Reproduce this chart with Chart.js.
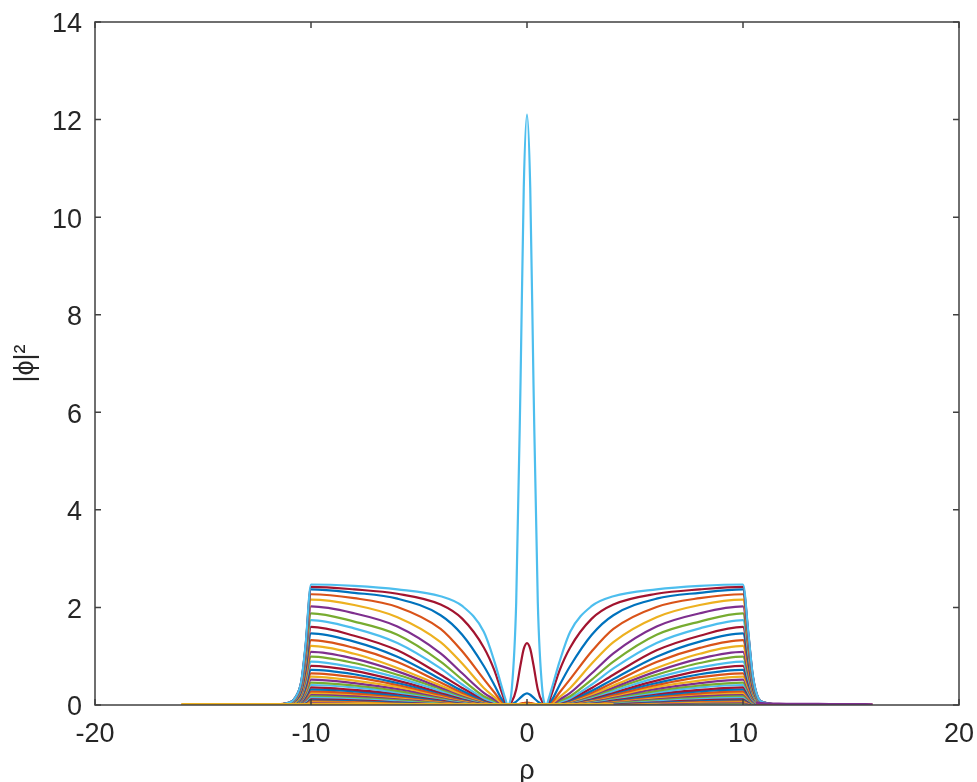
<!DOCTYPE html>
<html lang="en">
<head>
  <meta charset="UTF-8">
  <title>|phi|^2 vs rho</title>
  <script src="https://cdn.jsdelivr.net/npm/chart.js"></script>
  <style>
    body { margin: 0; background: #fff; }
  </style>
</head>
<body>
  <canvas id="phiChart" width="977" height="782"></canvas>

  <script>
    // shared rho grid for the family of profiles
    const rho = [-12, -11, -10.7, -10.45, -10.25, -10, -8, -6, -4, -3, -2, -1.5, -1.2, -1, -0.9, -0.7, -0.5, -0.3, -0.15, 0,
                 0.15, 0.3, 0.5, 0.7, 0.9, 1, 1.2, 1.5, 2, 3, 4, 6, 8, 10, 10.25, 10.45, 10.7, 11, 12];

    // |phi|^2, top curve first
    const phi01 = [0,0.05,0.17,0.49,1.24,2.47,2.44,2.37,2.23,2.03,1.5,0.88,0.42,0.12, 0,0.35,2.1,6.6,10.6,12.1,10.6,6.6,2.1,0.35,0, 0.12,0.42,0.88,1.5,2.03,2.23,2.37,2.44,2.47,1.48,0.62,0.15,0.05,0];
    const phi02 = [0,0.05,0.17,0.48,1.21,2.42,2.37,2.28,2.06,1.77,1.18,0.7,0.3,0.06, 0,0.07,0.32,0.82,1.15,1.27,1.15,0.82,0.32,0.07,0, 0.06,0.3,0.7,1.18,1.77,2.06,2.28,2.37,2.42,1.45,0.61,0.15,0.05,0];
    const phi03 = [0,0.05,0.17,0.47,1.19,2.37,2.3,2.18,1.84,1.44,0.8,0.4,0.14,0.03, 0,0.02,0.07,0.15,0.21,0.24,0.21,0.15,0.07,0.02,0, 0.03,0.14,0.4,0.8,1.44,1.84,2.18,2.3,2.37,1.42,0.59,0.14,0.05,0];
    const phi04 = [0,0.05,0.16,0.45,1.14,2.27,2.19,2.01,1.56,1.1,0.53,0.25,0.08,0.01, 0,0,0.01,0.03,0.04,0.05,0.04,0.03,0.01,0,0, 0.01,0.08,0.25,0.53,1.1,1.56,2.01,2.19,2.27,1.36,0.57,0.14,0.05,0];
    const phi05 = [0,0.04,0.15,0.43,1.08,2.16,2.05,1.8,1.29,0.85,0.35,0.16,0.05,0, 0,0,0,0,0,0,0,0,0,0,0, 0,0.05,0.16,0.35,0.85,1.29,1.8,2.05,2.16,1.3,0.54,0.13,0.04,0];
    const phi06 = [0,0.04,0.14,0.4,1.01,2.02,1.88,1.61,1.06,0.65,0.25,0.11,0.03,0, 0,0,0,0,0,0,0,0,0,0,0, 0,0.03,0.11,0.25,0.65,1.06,1.61,1.88,2.02,1.21,0.51,0.12,0.04,0];
    const phi07 = [0,0.04,0.13,0.38,0.94,1.88,1.71,1.44,0.89,0.52,0.18,0.08,0.02,0, 0,0,0,0,0,0,0,0,0,0,0, 0,0.02,0.08,0.18,0.52,0.89,1.44,1.71,1.88,1.13,0.47,0.11,0.04,0];
    const phi08 = [0,0.03,0.12,0.35,0.87,1.74,1.57,1.27,0.75,0.42,0.14,0.06,0.02,0, 0,0,0,0,0,0,0,0,0,0,0, 0,0.02,0.06,0.14,0.42,0.75,1.27,1.57,1.74,1.04,0.44,0.1,0.03,0];
    const phi09 = [0,0.03,0.11,0.32,0.8,1.6,1.42,1.12,0.62,0.35,0.12,0.05,0.015,0, 0,0,0,0,0,0,0,0,0,0,0, 0,0.015,0.05,0.12,0.35,0.62,1.12,1.42,1.6,0.96,0.4,0.1,0.03,0];
    const phi10 = [0,0.03,0.1,0.29,0.74,1.47,1.3,0.99,0.53,0.29,0.1,0.04,0.01,0, 0,0,0,0,0,0,0,0,0,0,0, 0,0.01,0.04,0.1,0.29,0.53,0.99,1.3,1.47,0.88,0.37,0.09,0.03,0];
    const phi11 = [0,0.03,0.09,0.27,0.67,1.33,1.17,0.88,0.46,0.25,0.09,0.04,0.01,0, 0,0,0,0,0,0,0,0,0,0,0, 0,0.01,0.04,0.09,0.25,0.46,0.88,1.17,1.33,0.8,0.33,0.08,0.03,0];
    const phi12 = [0,0.02,0.08,0.24,0.61,1.21,1.05,0.76,0.4,0.22,0.08,0.035,0.01,0, 0,0,0,0,0,0,0,0,0,0,0, 0,0.01,0.035,0.08,0.22,0.4,0.76,1.05,1.21,0.73,0.3,0.07,0.02,0];
    const phi13 = [0,0.02,0.08,0.22,0.55,1.09,0.95,0.69,0.36,0.2,0.07,0.03,0.01,0, 0,0,0,0,0,0,0,0,0,0,0, 0,0.01,0.03,0.07,0.2,0.36,0.69,0.95,1.09,0.65,0.27,0.07,0.02,0];
    const phi14 = [0,0.02,0.07,0.2,0.5,0.99,0.86,0.62,0.33,0.18,0.065,0.03,0.01,0, 0,0,0,0,0,0,0,0,0,0,0, 0,0.01,0.03,0.065,0.18,0.33,0.62,0.86,0.99,0.59,0.25,0.06,0.02,0];
    const phi15 = [0,0.02,0.06,0.18,0.45,0.89,0.77,0.56,0.29,0.16,0.058,0.027,0.01,0, 0,0,0,0,0,0,0,0,0,0,0, 0,0.01,0.027,0.058,0.16,0.29,0.56,0.77,0.89,0.53,0.22,0.05,0.02,0];
    const phi16 = [0,0.02,0.06,0.16,0.4,0.8,0.7,0.5,0.26,0.144,0.052,0.024,0.008,0, 0,0,0,0,0,0,0,0,0,0,0, 0,0.008,0.024,0.052,0.144,0.26,0.5,0.7,0.8,0.48,0.2,0.05,0.02,0];
    const phi17 = [0,0.01,0.05,0.14,0.36,0.72,0.63,0.45,0.24,0.13,0.047,0.022,0.007,0, 0,0,0,0,0,0,0,0,0,0,0, 0,0.007,0.022,0.047,0.13,0.24,0.45,0.63,0.72,0.43,0.18,0.04,0.01,0];
    const phi18 = [0,0.01,0.05,0.13,0.33,0.65,0.57,0.41,0.21,0.117,0.042,0.02,0.007,0, 0,0,0,0,0,0,0,0,0,0,0, 0,0.007,0.02,0.042,0.117,0.21,0.41,0.57,0.65,0.39,0.16,0.04,0.01,0];
    const phi19 = [0,0.01,0.04,0.12,0.29,0.58,0.5,0.37,0.19,0.104,0.038,0.017,0.006,0, 0,0,0,0,0,0,0,0,0,0,0, 0,0.006,0.017,0.038,0.104,0.19,0.37,0.5,0.58,0.35,0.15,0.03,0.01,0];
    const phi20 = [0,0.01,0.04,0.1,0.26,0.52,0.45,0.33,0.17,0.094,0.034,0.016,0.005,0, 0,0,0,0,0,0,0,0,0,0,0, 0,0.005,0.016,0.034,0.094,0.17,0.33,0.45,0.52,0.31,0.13,0.03,0.01,0];
    const phi21 = [0,0.01,0.03,0.09,0.23,0.46,0.4,0.29,0.15,0.083,0.03,0.014,0.005,0, 0,0,0,0,0,0,0,0,0,0,0, 0,0.005,0.014,0.03,0.083,0.15,0.29,0.4,0.46,0.28,0.12,0.03,0.01,0];
    const phi22 = [0,0.01,0.03,0.08,0.21,0.41,0.36,0.26,0.135,0.074,0.027,0.012,0.004,0, 0,0,0,0,0,0,0,0,0,0,0, 0,0.004,0.012,0.027,0.074,0.135,0.26,0.36,0.41,0.25,0.1,0.02,0.01,0];
    const phi23 = [0,0.01,0.03,0.07,0.18,0.36,0.31,0.23,0.12,0.065,0.023,0.011,0.004,0, 0,0,0,0,0,0,0,0,0,0,0, 0,0.004,0.011,0.023,0.065,0.12,0.23,0.31,0.36,0.22,0.09,0.02,0.01,0];
    const phi24 = [0,0.01,0.02,0.06,0.16,0.32,0.28,0.2,0.105,0.058,0.021,0.01,0.003,0, 0,0,0,0,0,0,0,0,0,0,0, 0,0.003,0.01,0.021,0.058,0.105,0.2,0.28,0.32,0.19,0.08,0.02,0.01,0];
    const phi25 = [0,0.01,0.02,0.06,0.14,0.28,0.24,0.18,0.092,0.05,0.018,0.008,0.003,0, 0,0,0,0,0,0,0,0,0,0,0, 0,0.003,0.008,0.018,0.05,0.092,0.18,0.24,0.28,0.17,0.07,0.02,0.01,0];
    const phi26 = [0,0,0.02,0.05,0.13,0.25,0.22,0.16,0.083,0.045,0.016,0.008,0.003,0, 0,0,0,0,0,0,0,0,0,0,0, 0,0.003,0.008,0.016,0.045,0.083,0.16,0.22,0.25,0.15,0.06,0.02,0,0];
    const phi27 = [0,0,0.02,0.04,0.11,0.22,0.19,0.14,0.073,0.04,0.014,0.007,0.002,0, 0,0,0,0,0,0,0,0,0,0,0, 0,0.002,0.007,0.014,0.04,0.073,0.14,0.19,0.22,0.13,0.06,0.01,0,0];
    const phi28 = [0,0,0.01,0.04,0.1,0.19,0.165,0.12,0.063,0.034,0.012,0.006,0.002,0, 0,0,0,0,0,0,0,0,0,0,0, 0,0.002,0.006,0.012,0.034,0.063,0.12,0.165,0.19,0.11,0.05,0.01,0,0];
    const phi29 = [0,0,0.01,0.03,0.08,0.16,0.14,0.1,0.053,0.029,0.01,0.005,0.002,0, 0,0,0,0,0,0,0,0,0,0,0, 0,0.002,0.005,0.01,0.029,0.053,0.1,0.14,0.16,0.1,0.04,0.01,0,0];
    const phi30 = [0,0,0.01,0.03,0.07,0.14,0.12,0.088,0.046,0.025,0.009,0.004,0.001,0, 0,0,0,0,0,0,0,0,0,0,0, 0,0.001,0.004,0.009,0.025,0.046,0.088,0.12,0.14,0.08,0.04,0.01,0,0];
    const phi31 = [0,0,0.01,0.02,0.06,0.12,0.104,0.076,0.04,0.022,0.008,0.004,0.001,0, 0,0,0,0,0,0,0,0,0,0,0, 0,0.001,0.004,0.008,0.022,0.04,0.076,0.104,0.12,0.07,0.03,0.01,0,0];
    const phi32 = [0,0,0.01,0.02,0.05,0.1,0.087,0.063,0.033,0.018,0.007,0.003,0.001,0, 0,0,0,0,0,0,0,0,0,0,0, 0,0.001,0.003,0.007,0.018,0.033,0.063,0.087,0.1,0.06,0.03,0.01,0,0];
    const phi33 = [0,0,0.01,0.02,0.04,0.08,0.07,0.05,0.026,0.014,0.005,0.002,0.001,0, 0,0,0,0,0,0,0,0,0,0,0, 0,0.001,0.002,0.005,0.014,0.026,0.05,0.07,0.08,0.05,0.02,0,0,0];
    const phi34 = [0,0,0,0.01,0.03,0.06,0.052,0.038,0.02,0.011,0.004,0.002,0,0, 0,0,0,0,0,0,0,0,0,0,0, 0,0,0.002,0.004,0.011,0.02,0.038,0.052,0.06,0.04,0.02,0,0,0];
    const phi35 = [0,0,0,0.01,0.02,0.045,0.039,0.028,0.015,0.008,0.003,0.001,0,0, 0,0,0,0,0,0,0,0,0,0,0, 0,0,0.001,0.003,0.008,0.015,0.028,0.039,0.045,0.03,0.01,0,0,0];
    const phi36 = [0,0,0,0.01,0.015,0.03,0.026,0.019,0.01,0.005,0.002,0.001,0,0, 0,0,0,0,0,0,0,0,0,0,0, 0,0,0.001,0.002,0.005,0.01,0.019,0.026,0.03,0.02,0.01,0,0,0];

    // flat line along the bottom and the small tail on the right
    const flatRho = [-16, 4];
    const flatYellow = [0.02, 0.02];
    const flatOrange = [0.01, 0.01];
    const tailRho = [10.6, 11, 11.5, 12, 13, 14, 15, 16];
    const tailA = [0.05, 0.035, 0.03, 0.025, 0.025, 0.02, 0.02, 0.015];
    const tailB = [0.03, 0.02, 0.02, 0.015, 0.015, 0.012, 0.01, 0.008];

    const family = [phi01, phi02, phi03, phi04, phi05, phi06, phi07, phi08, phi09, phi10, phi11, phi12,
                    phi13, phi14, phi15, phi16, phi17, phi18, phi19, phi20, phi21, phi22, phi23, phi24,
                    phi25, phi26, phi27, phi28, phi29, phi30, phi31, phi32, phi33, phi34, phi35, phi36];

    // matlab default colour order, family starts on the light blue one
    const palette = ['#4DBEEE', '#A2142F', '#0072BD', '#D95319', '#EDB120', '#7E2F8E', '#77AC30'];

    const pts = (xs, ys) => xs.map((x, i) => ({ x: x, y: ys[i] }));

    const datasets = [
      { data: pts(flatRho, flatYellow), borderColor: '#EDB120' },
      { data: pts(flatRho, flatOrange), borderColor: '#D95319' },
      { data: pts(tailRho, tailA), borderColor: '#7E2F8E' },
      { data: pts(tailRho, tailB), borderColor: '#D95319' }
    ];
    family.forEach((ys, k) => {
      datasets.push({ data: pts(rho, ys), borderColor: palette[k % 7] });
    });

    const axisFont = { family: 'Liberation Sans, Arial, sans-serif', size: 27 };
    const textColor = '#262626';

    // box round the axes with inward tick marks, like matlab
    const frame = {
      id: 'frame',
      afterDraw(chart) {
        const { ctx, chartArea: a, scales: { x, y } } = chart;
        ctx.save();
        ctx.strokeStyle = '#404040';
        ctx.lineWidth = 1.5;
        ctx.strokeRect(a.left, a.top, a.right - a.left, a.bottom - a.top);
        ctx.beginPath();
        x.ticks.forEach(t => {
          const px = x.getPixelForValue(t.value);
          ctx.moveTo(px, a.bottom); ctx.lineTo(px, a.bottom - 6);
          ctx.moveTo(px, a.top); ctx.lineTo(px, a.top + 6);
        });
        y.ticks.forEach(t => {
          const py = y.getPixelForValue(t.value);
          ctx.moveTo(a.left, py); ctx.lineTo(a.left + 6, py);
          ctx.moveTo(a.right, py); ctx.lineTo(a.right - 6, py);
        });
        ctx.stroke();
        ctx.restore();
      }
    };

    new Chart(document.getElementById('phiChart'), {
      type: 'line',
      data: { datasets },
      plugins: [frame],
      options: {
        responsive: false,
        animation: false,
        devicePixelRatio: 1,
        layout: { padding: { top: 22, right: 18, bottom: 0, left: 0 } },
        elements: {
          line: { borderWidth: 2.2, cubicInterpolationMode: 'monotone', fill: false },
          point: { radius: 0 }
        },
        plugins: {
          legend: { display: false },
          tooltip: { enabled: false }
        },
        scales: {
          x: {
            type: 'linear',
            min: -20,
            max: 20,
            ticks: { stepSize: 10, font: axisFont, color: textColor, padding: 13, maxRotation: 0 },
            grid: { display: false, drawTicks: false },
            border: { display: false },
            title: { display: true, text: 'ρ', font: { ...axisFont, lineHeight: 0.8 }, color: textColor, padding: { top: 0, bottom: 0 } },
            afterFit: s => { s.height = 77; s.paddingLeft = 0; s.paddingRight = 0; }
          },
          y: {
            type: 'linear',
            min: 0,
            max: 14,
            ticks: { stepSize: 2, font: axisFont, color: textColor, padding: 13, labelOffset: 3 },
            grid: { display: false, drawTicks: false },
            border: { display: false },
            title: { display: true, text: '|ϕ|²', font: axisFont, color: textColor, padding: { top: 9, bottom: 0 } },
            afterFit: s => { s.width = 95; s.paddingTop = 0; s.paddingBottom = 0; }
          }
        }
      }
    });
  </script>
</body>
</html>
